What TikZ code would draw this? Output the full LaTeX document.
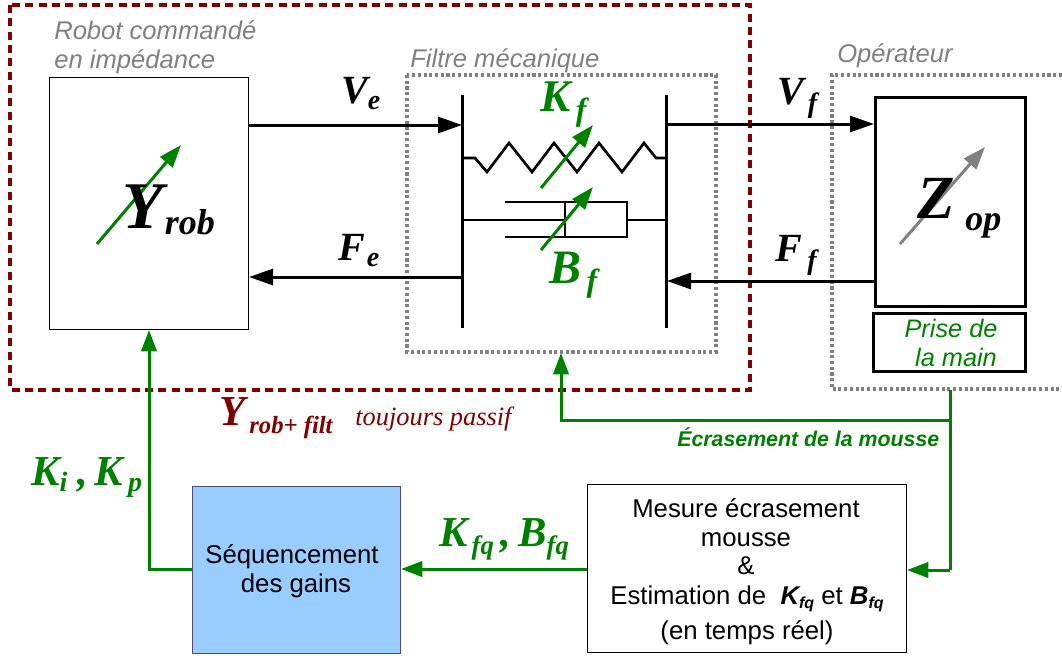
\documentclass[tikz,border=0pt]{standalone}
\usepackage{fontspec}
\setmainfont{Liberation Sans}
\newfontfamily\serifbi[BoldFont={Liberation Serif Bold},ItalicFont={Liberation Serif Italic},BoldItalicFont={Liberation Serif Bold Italic}]{Liberation Serif}
\usetikzlibrary{arrows.meta}
\definecolor{grn}{HTML}{008000}
\definecolor{drk}{HTML}{800000}
\definecolor{gry}{HTML}{808080}
\definecolor{blu}{HTML}{99CCFF}
% base size, base, sub size, sub, kern, drop
\newcommand{\lab}[6]{{\serifbi\bfseries\itshape\fontsize{#1}{#1}\selectfont #2\kern #5\raisebox{-#6}{\fontsize{#3}{#3}\selectfont #4}}}
\newcommand{\sz}[1]{\fontsize{#1}{#1}\selectfont}
\newcommand{\bigbi}[2]{{\serifbi\bfseries\itshape\fontsize{#1}{#1}\selectfont #2}}
\tikzset{
  x=0.75pt,y=-0.75pt,
  txt/.style={inner sep=0pt,anchor=base west},
  ctxt/.style={inner sep=0pt,anchor=base},
  sigblack/.style={draw=black,line width=2.25pt,-{Triangle[length=18pt,width=12pt]}},
  siggreen/.style={draw=grn,line width=2.25pt,-{Triangle[length=16pt,width=11.5pt]}},
  linegreen/.style={draw=grn,line width=2.25pt},
  varg/.style={draw=grn,line width=2.25pt,-{Triangle[length=17pt,width=12pt]}},
  varx/.style={draw=gry,line width=2.25pt,-{Triangle[length=17pt,width=12pt]}},
  mech/.style={draw=black,line width=2pt,line join=miter},
  plate/.style={draw=black,line width=2.25pt},
  dotbox/.style={draw=gry,line width=2.3pt,dash pattern=on 2.3pt off 2pt},
  boxbase/.style={anchor=north west,inner sep=0pt,outer sep=0pt},
  thinbox/.style={boxbase,draw=black,line width=0.6pt},
  thickbox/.style={boxbase,draw=black,line width=2.25pt},
}
\begin{document}
\begin{tikzpicture}
\useasboundingbox (0,0) rectangle (1062,657);
% enclosures
\draw[draw=drk,line width=2.3pt,dash pattern=on 6pt off 4pt] (10,5) rectangle (750,390);
\draw[dotbox] (407,75) rectangle (716,352);
\draw[dotbox] (1062,75) -- (832,75) -- (832,389) -- (1062,389);
% boxes
\node[thinbox,minimum width=199*0.75pt,minimum height=252*0.75pt] (rob) at (49,77) {};
\node[thickbox,minimum width=150*0.75pt,minimum height=209*0.75pt] (op) at (875,97) {};
\node[thickbox,minimum width=152*0.75pt,minimum height=58*0.75pt] (prise) at (873,313) {};
\node[boxbase,draw=black!60!blue!40!gray,line width=0.6pt,fill=blu,minimum width=208*0.75pt,minimum height=167*0.75pt] (seq) at (192,486) {};
\node[thinbox,minimum width=319*0.75pt,minimum height=168*0.75pt] (mes) at (587,484) {};
% plates
\coordinate (pl1t) at (462,95); \coordinate (pl1b) at (462,328);
\coordinate (pl2t) at (666,95); \coordinate (pl2b) at (666,328);
\draw[plate] (pl1t) -- (pl1b);
\draw[plate] (pl2t) -- (pl2b);
% spring
\draw[mech] (463,158) -- (475,158) -- (487,172) -- (509,143) -- (532,172) -- (554,143) -- (577,172) -- (599,143) -- (622,172) -- (644,143) -- (656,158) -- (666,158);
% damper
\draw[mech] (463,220) -- (565,220);
\draw[mech] (565,202) -- (565,237);
\draw[mech] (505,202) -- (627,202) -- (627,237) -- (505,237);
\draw[mech] (627,220) -- (666,220);
% signals
\coordinate (ve1) at (249,125); \coordinate (ve2) at (462,125);
\coordinate (fe1) at (462,277); \coordinate (fe2) at (249,277);
\coordinate (vf1) at (666,124); \coordinate (vf2) at (874,124);
\coordinate (ff1) at (874,281); \coordinate (ff2) at (667,281);
\draw[sigblack] (ve1) -- (ve2);
\draw[sigblack] (fe1) -- (fe2);
\draw[sigblack] (vf1) -- (vf2);
\draw[sigblack] (ff1) -- (ff2);
% variable arrows
\draw[varg] (541,188) -- (593,125);
\draw[varg] (541,250) -- (593,187);
\draw[varg] (97,244) -- (181,145);
\draw[varx] (900,244) -- (985,147);
% feedback
\coordinate (fb0) at (950,390);
\coordinate (fb1) at (950,420);
\coordinate (fb2) at (950,570);
\coordinate (fb3) at (561,420);
\coordinate (fb4) at (561,353);
\draw[linegreen] (fb0) -- (fb2);
\draw[siggreen] (fb2) -- (907,570);
\draw[siggreen] (fb1) -- (fb3) -- (fb4);
\draw[siggreen] (mes.west |- 0,569) -- (401,569);
\draw[siggreen] (seq.west |- 0,569) -- (149,569) -- (149,330);
% block labels
\node[txt] (t1) at (122,228) {\lab{50}{Y}{27}{rob}{1.5pt}{5pt}};
\node[txt] (t2) at (917,218) {\lab{46}{Z}{27}{op}{8pt}{9pt}};
\node[txt] (t3) at (341,103) {\lab{30}{V}{21}{e}{0pt}{5pt}};
\node[txt] (t4) at (338,260) {\lab{30}{F}{21}{e}{1.5pt}{5pt}};
\node[txt] (t5) at (777,104) {\lab{30}{V}{21}{f}{3pt}{6pt}};
\node[txt] (t6) at (775,261) {\lab{30}{F}{21}{f}{4pt}{6pt}};
\node[txt,text=grn] (t7) at (540,111) {\lab{34}{K}{24}{f}{4pt}{7pt}};
\node[txt,text=grn] (t8) at (549,283) {\lab{36}{B}{24}{f}{4pt}{6pt}};
\node[txt,text=grn] (t9a) at (31,485) {\lab{32}{K}{21}{i}{0pt}{5pt}};
\node[txt,text=grn] (t9b) at (77,485) {\bigbi{32}{,}};
\node[txt,text=grn] (t9c) at (94,485) {\lab{32}{K}{21}{p}{4pt}{5pt}};
\node[txt,text=grn] (t10a) at (439,546) {\lab{32}{K}{20}{fq}{3pt}{6pt}};
\node[txt,text=grn] (t10b) at (500,546) {\bigbi{32}{,}};
\node[txt,text=grn] (t10c) at (518,546) {\lab{32}{B}{20}{fq}{0pt}{6pt}};
\node[txt,text=drk] (t11) at (219,425) {\lab{32}{Y}{18.5}{rob+ filt}{3pt}{6pt}};
\node[txt,text=drk] (t12) at (355,425) {\serifbi\itshape\sz{19.8}toujours passif};
% captions
\node[txt,text=gry] (c1) at (54,39) {\itshape\sz{19.2}Robot commandé};
\node[txt,text=gry] (c2) at (54,68) {\itshape\sz{19.2}en impédance};
\node[txt,text=gry] (c3) at (410,67) {\itshape\sz{19.2}Filtre mécanique};
\node[txt,text=gry] (c4) at (837,62) {\itshape\sz{19.2}Opérateur};
\node[ctxt,text=grn] (p1) at (951,337) {\itshape\sz{19}Prise de};
\node[ctxt,text=grn] (p2) at (956,366) {\itshape\sz{19}la main};
\node[txt,text=grn] (e1) at (677,446) {\bfseries\itshape\sz{16}Écrasement de la mousse};
\node[ctxt] (s1) at (292,563) {\sz{19.3}Séquencement};
\node[ctxt] (s2) at (296,592) {\sz{19.3}des gains};
\node[ctxt] (m1) at (746,517) {\sz{19.3}Mesure écrasement};
\node[ctxt] (m2) at (746,546) {\sz{19.3}mousse};
\node[ctxt] (m3) at (746,574) {\sz{19.3}\&};
\node[ctxt] (m4) at (747,604) {\sz{19.3}Estimation de\ \ {\bfseries\itshape\sz{19.3}K\raisebox{-3pt}{\sz{12}fq}} et {\bfseries\itshape\sz{19.3}B\raisebox{-3pt}{\sz{12}fq}}};
\node[ctxt] (m5) at (747,639) {\sz{19.3}(en temps réel)};
\end{tikzpicture}
\end{document}
